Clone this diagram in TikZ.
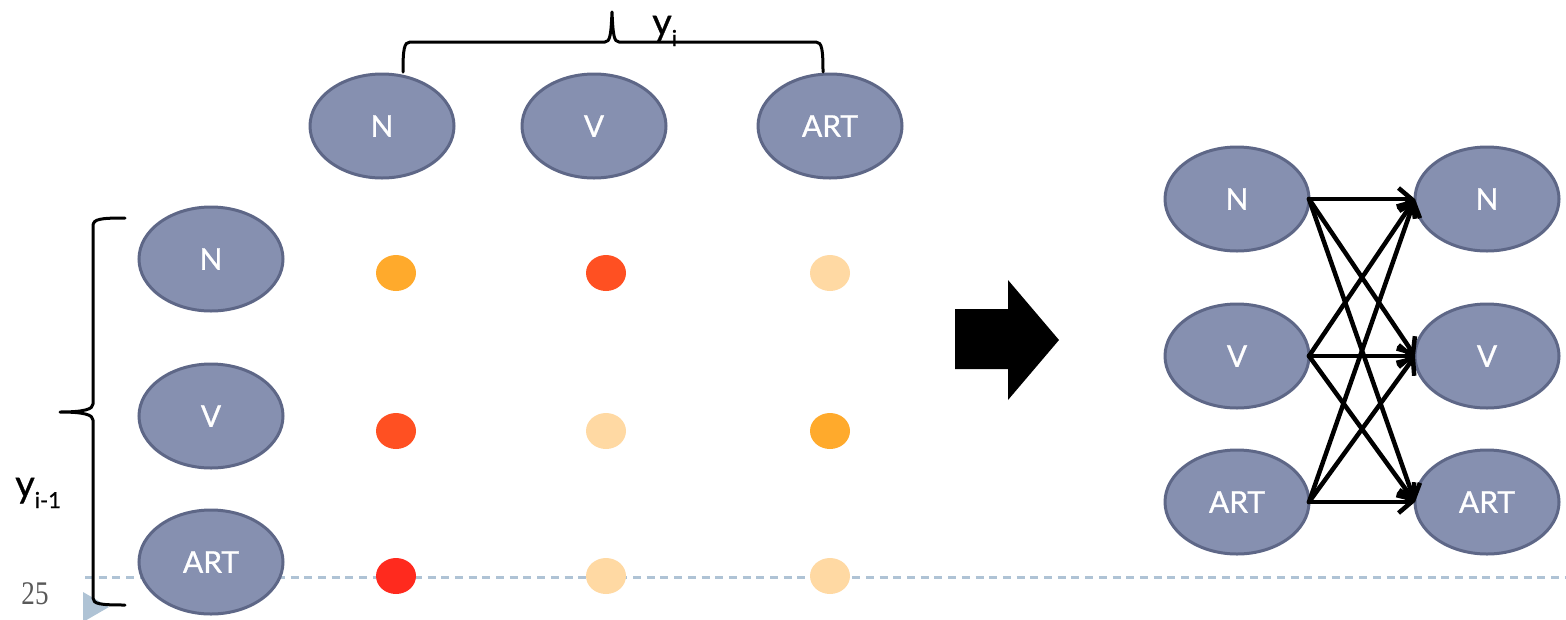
\documentclass[tikz,border=0pt]{standalone}
\usepackage{fontspec}
\setmainfont{Lato}
\newfontfamily\statefont{Lato}[FakeBold=0.8]
\newfontfamily\pagenumfont{Liberation Serif}
\usetikzlibrary{arrows.meta,shapes.geometric}

\definecolor{statefill}{HTML}{8690B0}
\definecolor{stateline}{HTML}{5E6787}
\definecolor{scoreHi}{HTML}{FF2A1E}
\definecolor{scoreMid}{HTML}{FF5022}
\definecolor{scoreLow}{HTML}{FFAA2C}
\definecolor{scoreMin}{HTML}{FFD9A3}
\definecolor{rulecol}{HTML}{AFC3D5}

\begin{document}
\begin{tikzpicture}[x=1pt,y=-1pt,
  state/.style={ellipse, draw=stateline, fill=statefill, line width=3pt,
    minimum width=144pt, minimum height=104pt, inner sep=0pt, outer sep=0pt,
    text=white, font=\statefont\fontsize{30}{30}\selectfont},
  score/.style={ellipse, draw=none, minimum width=40pt, minimum height=36pt, inner sep=0pt},
  brace/.style={line width=3pt, line cap=round, line join=round},
  trans/.style={line width=4.5pt, line cap=round,
    -{Straight Barb[length=13pt,width=22pt,line width=4.5pt]}},
  rule/.style={rulecol, line width=3pt, dash pattern=on 8pt off 5.7pt}
]
\useasboundingbox (0,0) rectangle (1566,619);
\clip (0,0) rectangle (1566,619);

% footer rule, marker and page number
\draw[rule] (85,577) -- (1566,577);
\fill[rulecol] (83,592) -- (109,607) -- (83,622) -- cycle;
\node[inner sep=0pt, text=black!65, font=\pagenumfont\fontsize{33}{33}\selectfont] (pg) at (35,594)
  {\scalebox{0.82}[1]{25}};

% current tags y_i
\node[state] (tN) at (382,126) {N};
\node[state] (tV) at (594,126) {V};
\node[state] (tA) at (830,126) {ART};

% previous tags y_{i-1}
\node[state] (pN) at (211,259) {N};
\node[state] (pV) at (211,416) {V};
\node[state] (pA) at (211,562) {ART};

% transition scores
\node[score, fill=scoreLow] (s11) at (396,273) {};
\node[score, fill=scoreMid] (s12) at (606,273) {};
\node[score, fill=scoreMin] (s13) at (830,273) {};
\node[score, fill=scoreMid] (s21) at (396,431) {};
\node[score, fill=scoreMin] (s22) at (606,431) {};
\node[score, fill=scoreLow] (s23) at (830,431) {};
\node[score, fill=scoreHi]  (s31) at (396,576) {};
\node[score, fill=scoreMin] (s32) at (606,576) {};
\node[score, fill=scoreMin] (s33) at (830,576) {};

% braces and their labels
\draw[brace] (403,72) .. controls (403,50) and (404,42) .. (410,42) -- (605,42)
  .. controls (610,42) and (611,35) .. (612,12)
  .. controls (613,35) and (614,42) .. (619,42) -- (816,42)
  .. controls (822,42) and (823,50) .. (823,72);
\node[anchor=base west, inner sep=0pt, font=\statefont\fontsize{38}{38}\selectfont] (lblI) at (652,35)
  {y\raisebox{-11pt}{\fontsize{22}{22}\selectfont i}};

\draw[brace] (125,218) .. controls (100,218) and (93,219) .. (93,226) -- (93,404)
  .. controls (93,409) and (85,412) .. (60,412)
  .. controls (85,412) and (93,415) .. (93,420) -- (93,598)
  .. controls (93,604) and (100,605) .. (125,605);
\node[anchor=base west, inner sep=0pt, font=\statefont\fontsize{38}{38}\selectfont] (lblP) at (15,497)
  {y\raisebox{-11pt}{\fontsize{22}{22}\selectfont i-1}};

% block arrow
\fill (955,309) -- (1008,309) -- (1008,280) -- (1059,340) -- (1008,400)
  -- (1008,369) -- (955,369) -- cycle;

% transition graph
\node[state] (lN) at (1237,199) {N};
\node[state] (lV) at (1237,356) {V};
\node[state] (lA) at (1237,502) {ART};
\node[state] (rN) at (1487,199) {N};
\node[state] (rV) at (1487,356) {V};
\node[state] (rA) at (1487,502) {ART};

\foreach \a in {N,V,A}{
  \foreach \b in {N,V,A}{
    \draw[trans] (l\a.east) -- (r\b.west);
  }
}
\end{tikzpicture}
\end{document}
